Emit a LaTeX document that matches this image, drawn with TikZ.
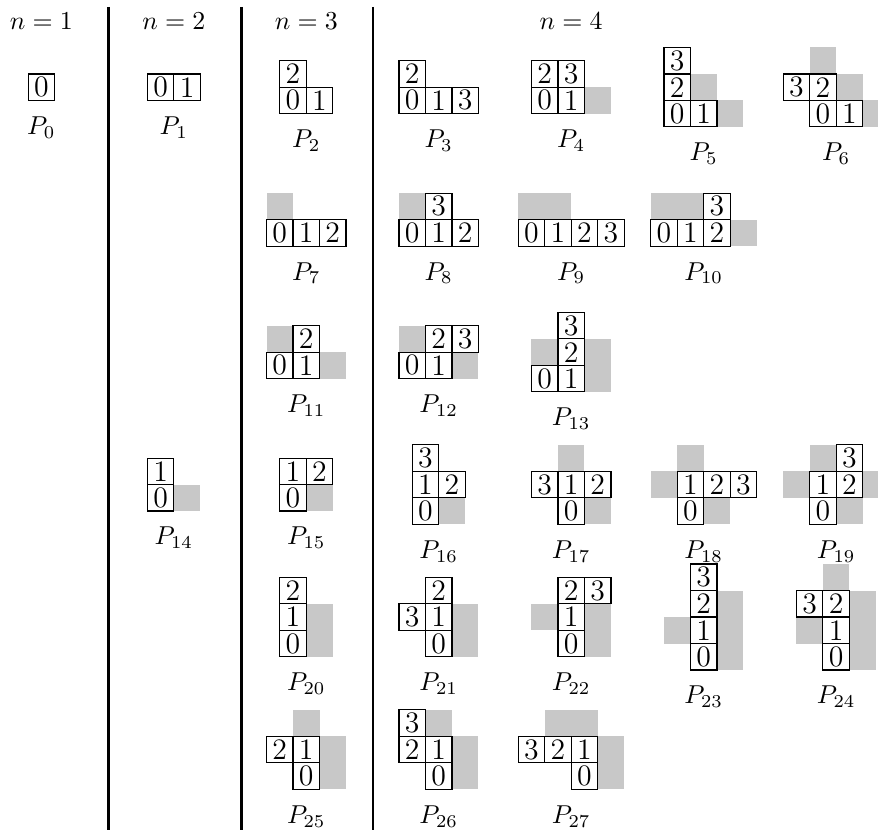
\documentclass[tikz,border=0pt]{standalone}
\definecolor{tilegray}{HTML}{C8C8C8}
\newcommand{\polyo}[5]{%
  \begin{scope}[shift={#2}]
    \if\relax\detokenize{#4}\relax\else
      \foreach \i/\j in {#4} \fill[tilegray] (\i,\j) rectangle ++(1,1);
    \fi
    \foreach \i/\j/\k in {#3}{
      \draw[cellline] (\i,\j) rectangle ++(1,1);
      \node[digit] (p#1-\k) at (\i+0.5,\j+0.5) {\k};}
    \node[plabel] (lbl#1) at (#5,-1.28) {$P_{#1}$};
  \end{scope}}
\begin{document}
\begin{tikzpicture}[x=0.36cm,y=0.36cm,
  cellline/.style={line width=0.45pt},
  digit/.style={inner sep=0pt,font=\fontsize{11.5}{13}\selectfont},
  plabel/.style={anchor=base}]
  \useasboundingbox (-0.06,0) rectangle (33.08,31.29);
  \clip (-0.06,0) rectangle (33.08,31.29);
  \fill[white] (-0.06,0) rectangle (33.08,31.29);
  \foreach \x in {4.02,9.07,14.02} \draw[line width=1.1pt] (\x,31.03)--(\x,-0.2);
  \foreach \k/\x in {1/1.5,2/6.5,3/11.5,4/21.5} \node[anchor=base] (n\k) at (\x,30.16) {$n=\k$};
  \polyo{0}{(1,27.5)}{0/0/0}{}{0.5}
  \polyo{1}{(5.5,27.5)}{0/0/0,1/0/1}{}{1}
  \polyo{2}{(10.5,27)}{0/0/0,1/0/1,0/1/2}{}{1}
  \polyo{3}{(15,27)}{0/0/0,1/0/1,2/0/3,0/1/2}{}{1.5}
  \polyo{4}{(20,27)}{0/0/0,1/0/1,0/1/2,1/1/3}{2/0}{1.5}
  \polyo{5}{(25,26.5)}{0/0/0,1/0/1,0/1/2,0/2/3}{2/0,1/1}{1.5}
  \polyo{6}{(30.5,26.5)}{0/0/0,1/0/1,0/1/2,-1/1/3}{2/0,1/1,0/2}{1}
  \polyo{7}{(10,22)}{0/0/0,1/0/1,2/0/2}{0/1}{1.5}
  \polyo{8}{(15,22)}{0/0/0,1/0/1,2/0/2,1/1/3}{0/1}{1.5}
  \polyo{9}{(19.5,22)}{0/0/0,1/0/1,2/0/2,3/0/3}{0/1,1/1}{2}
  \polyo{10}{(24.5,22)}{0/0/0,1/0/1,2/0/2,2/1/3}{0/1,1/1,3/0}{2}
  \polyo{11}{(10,17)}{0/0/0,1/0/1,1/1/2}{0/1,2/0}{1.5}
  \polyo{12}{(15,17)}{0/0/0,1/0/1,1/1/2,2/1/3}{0/1,2/0}{1.5}
  \polyo{13}{(20,16.5)}{0/0/0,1/0/1,1/1/2,1/2/3}{0/1,2/0,2/1}{1.5}
  \polyo{14}{(5.5,12)}{0/0/0,0/1/1}{1/0}{1}
  \polyo{15}{(10.5,12)}{0/0/0,0/1/1,1/1/2}{1/0}{1}
  \polyo{16}{(15.5,11.5)}{0/0/0,0/1/1,1/1/2,0/2/3}{1/0}{1}
  \polyo{17}{(21,11.5)}{0/0/0,0/1/1,1/1/2,-1/1/3}{1/0,0/2}{0.5}
  \polyo{18}{(25.5,11.5)}{0/0/0,0/1/1,1/1/2,2/1/3}{1/0,-1/1,0/2}{1}
  \polyo{19}{(30.5,11.5)}{0/0/0,0/1/1,1/1/2,1/2/3}{1/0,-1/1,2/1,0/2}{1}
  \polyo{20}{(10.5,6.5)}{0/0/0,0/1/1,0/2/2}{1/0,1/1}{1}
  \polyo{21}{(16,6.5)}{0/0/0,0/1/1,0/2/2,-1/1/3}{1/0,1/1}{0.5}
  \polyo{22}{(21,6.5)}{0/0/0,0/1/1,0/2/2,1/2/3}{1/0,1/1,-1/1}{0.5}
  \polyo{23}{(26,6)}{0/0/0,0/1/1,0/2/2,0/3/3}{1/0,1/1,1/2,-1/1}{0.5}
  \polyo{24}{(31,6)}{0/0/0,0/1/1,0/2/2,-1/2/3}{1/0,1/1,1/2,-1/1,0/3}{0.5}
  \polyo{25}{(11,1.5)}{0/0/0,0/1/1,-1/1/2}{1/0,1/1,0/2}{0.5}
  \polyo{26}{(16,1.5)}{0/0/0,0/1/1,-1/1/2,-1/2/3}{1/0,1/1,0/2}{0.5}
  \polyo{27}{(21.5,1.5)}{0/0/0,0/1/1,-1/1/2,-2/1/3}{1/0,1/1,0/2,-1/2}{0}
\end{tikzpicture}
\end{document}
